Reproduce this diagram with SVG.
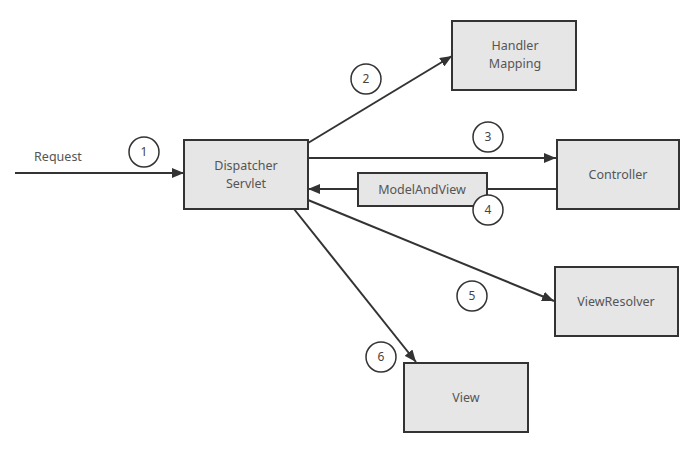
<svg xmlns="http://www.w3.org/2000/svg" width="698" height="452" viewBox="0 0 698 452">
<defs>
<style>
.box{fill:#e6e6e6;stroke:#333;stroke-width:2}
.lbl{font-family:"Noto Sans","Open Sans",sans-serif;font-size:12.5px;fill:#555;text-anchor:middle}
.num{font-family:"Noto Sans","Open Sans",sans-serif;font-size:12px;fill:#444;text-anchor:middle}
.cir{fill:#fff;stroke:#333;stroke-width:1.5}
.ln{stroke:#333;stroke-width:2;fill:none}
</style>
<marker id="ah" viewBox="0 0 12 10" refX="12" refY="5" markerWidth="12" markerHeight="10" markerUnits="userSpaceOnUse" orient="auto">
<path d="M0,0 L12,5 L0,10 z" fill="#333"/>
</marker>
</defs>
<rect width="698" height="452" fill="#fff"/>
<g id="connectors">
<line class="ln" x1="15" y1="173" x2="184" y2="173" marker-end="url(#ah)"/>
<line class="ln" x1="308" y1="143" x2="452" y2="56" marker-end="url(#ah)"/>
<line class="ln" x1="308" y1="158" x2="556" y2="158" marker-end="url(#ah)"/>
<line class="ln" x1="556" y1="189" x2="487" y2="189"/>
<line class="ln" x1="358" y1="189" x2="308" y2="189" marker-end="url(#ah)"/>
<line class="ln" x1="308" y1="200" x2="554" y2="301" marker-end="url(#ah)"/>
<line class="ln" x1="294" y1="209" x2="416" y2="362" marker-end="url(#ah)"/>
</g>
<g id="request"><text class="lbl" x="58" y="161">Request</text></g>
<g id="dispatcher">
<rect class="box" x="184" y="140" width="124" height="69"/>
<text class="lbl" x="246" y="170">Dispatcher</text>
<text class="lbl" x="246" y="187.5">Servlet</text>
</g>
<g id="handler">
<rect class="box" x="452" y="21" width="124" height="69"/>
<text class="lbl" x="515" y="50">Handler</text>
<text class="lbl" x="515" y="67.5">Mapping</text>
</g>
<g id="controller">
<rect class="box" x="557" y="140" width="122" height="69"/>
<text class="lbl" x="618" y="179">Controller</text>
</g>
<g id="modelandview">
<rect class="box" x="358" y="173" width="129" height="33"/>
<text class="lbl" x="422" y="194">ModelAndView</text>
</g>
<g id="viewresolver">
<rect class="box" x="555" y="267" width="123" height="69"/>
<text class="lbl" x="616" y="306">ViewResolver</text>
</g>
<g id="view">
<rect class="box" x="404" y="363" width="124" height="69"/>
<text class="lbl" x="466" y="402">View</text>
</g>
<g id="step1"><circle class="cir" cx="144" cy="152" r="15"/><text class="num" x="144" y="156">1</text></g>
<g id="step2"><circle class="cir" cx="366" cy="79" r="15"/><text class="num" x="366" y="83">2</text></g>
<g id="step3"><circle class="cir" cx="488" cy="137" r="15"/><text class="num" x="488" y="141">3</text></g>
<g id="step4"><circle class="cir" cx="488" cy="210" r="15"/><text class="num" x="488" y="214">4</text></g>
<g id="step5"><circle class="cir" cx="472" cy="296" r="15"/><text class="num" x="472" y="300">5</text></g>
<g id="step6"><circle class="cir" cx="381" cy="357" r="15"/><text class="num" x="381" y="361">6</text></g>
</svg>
